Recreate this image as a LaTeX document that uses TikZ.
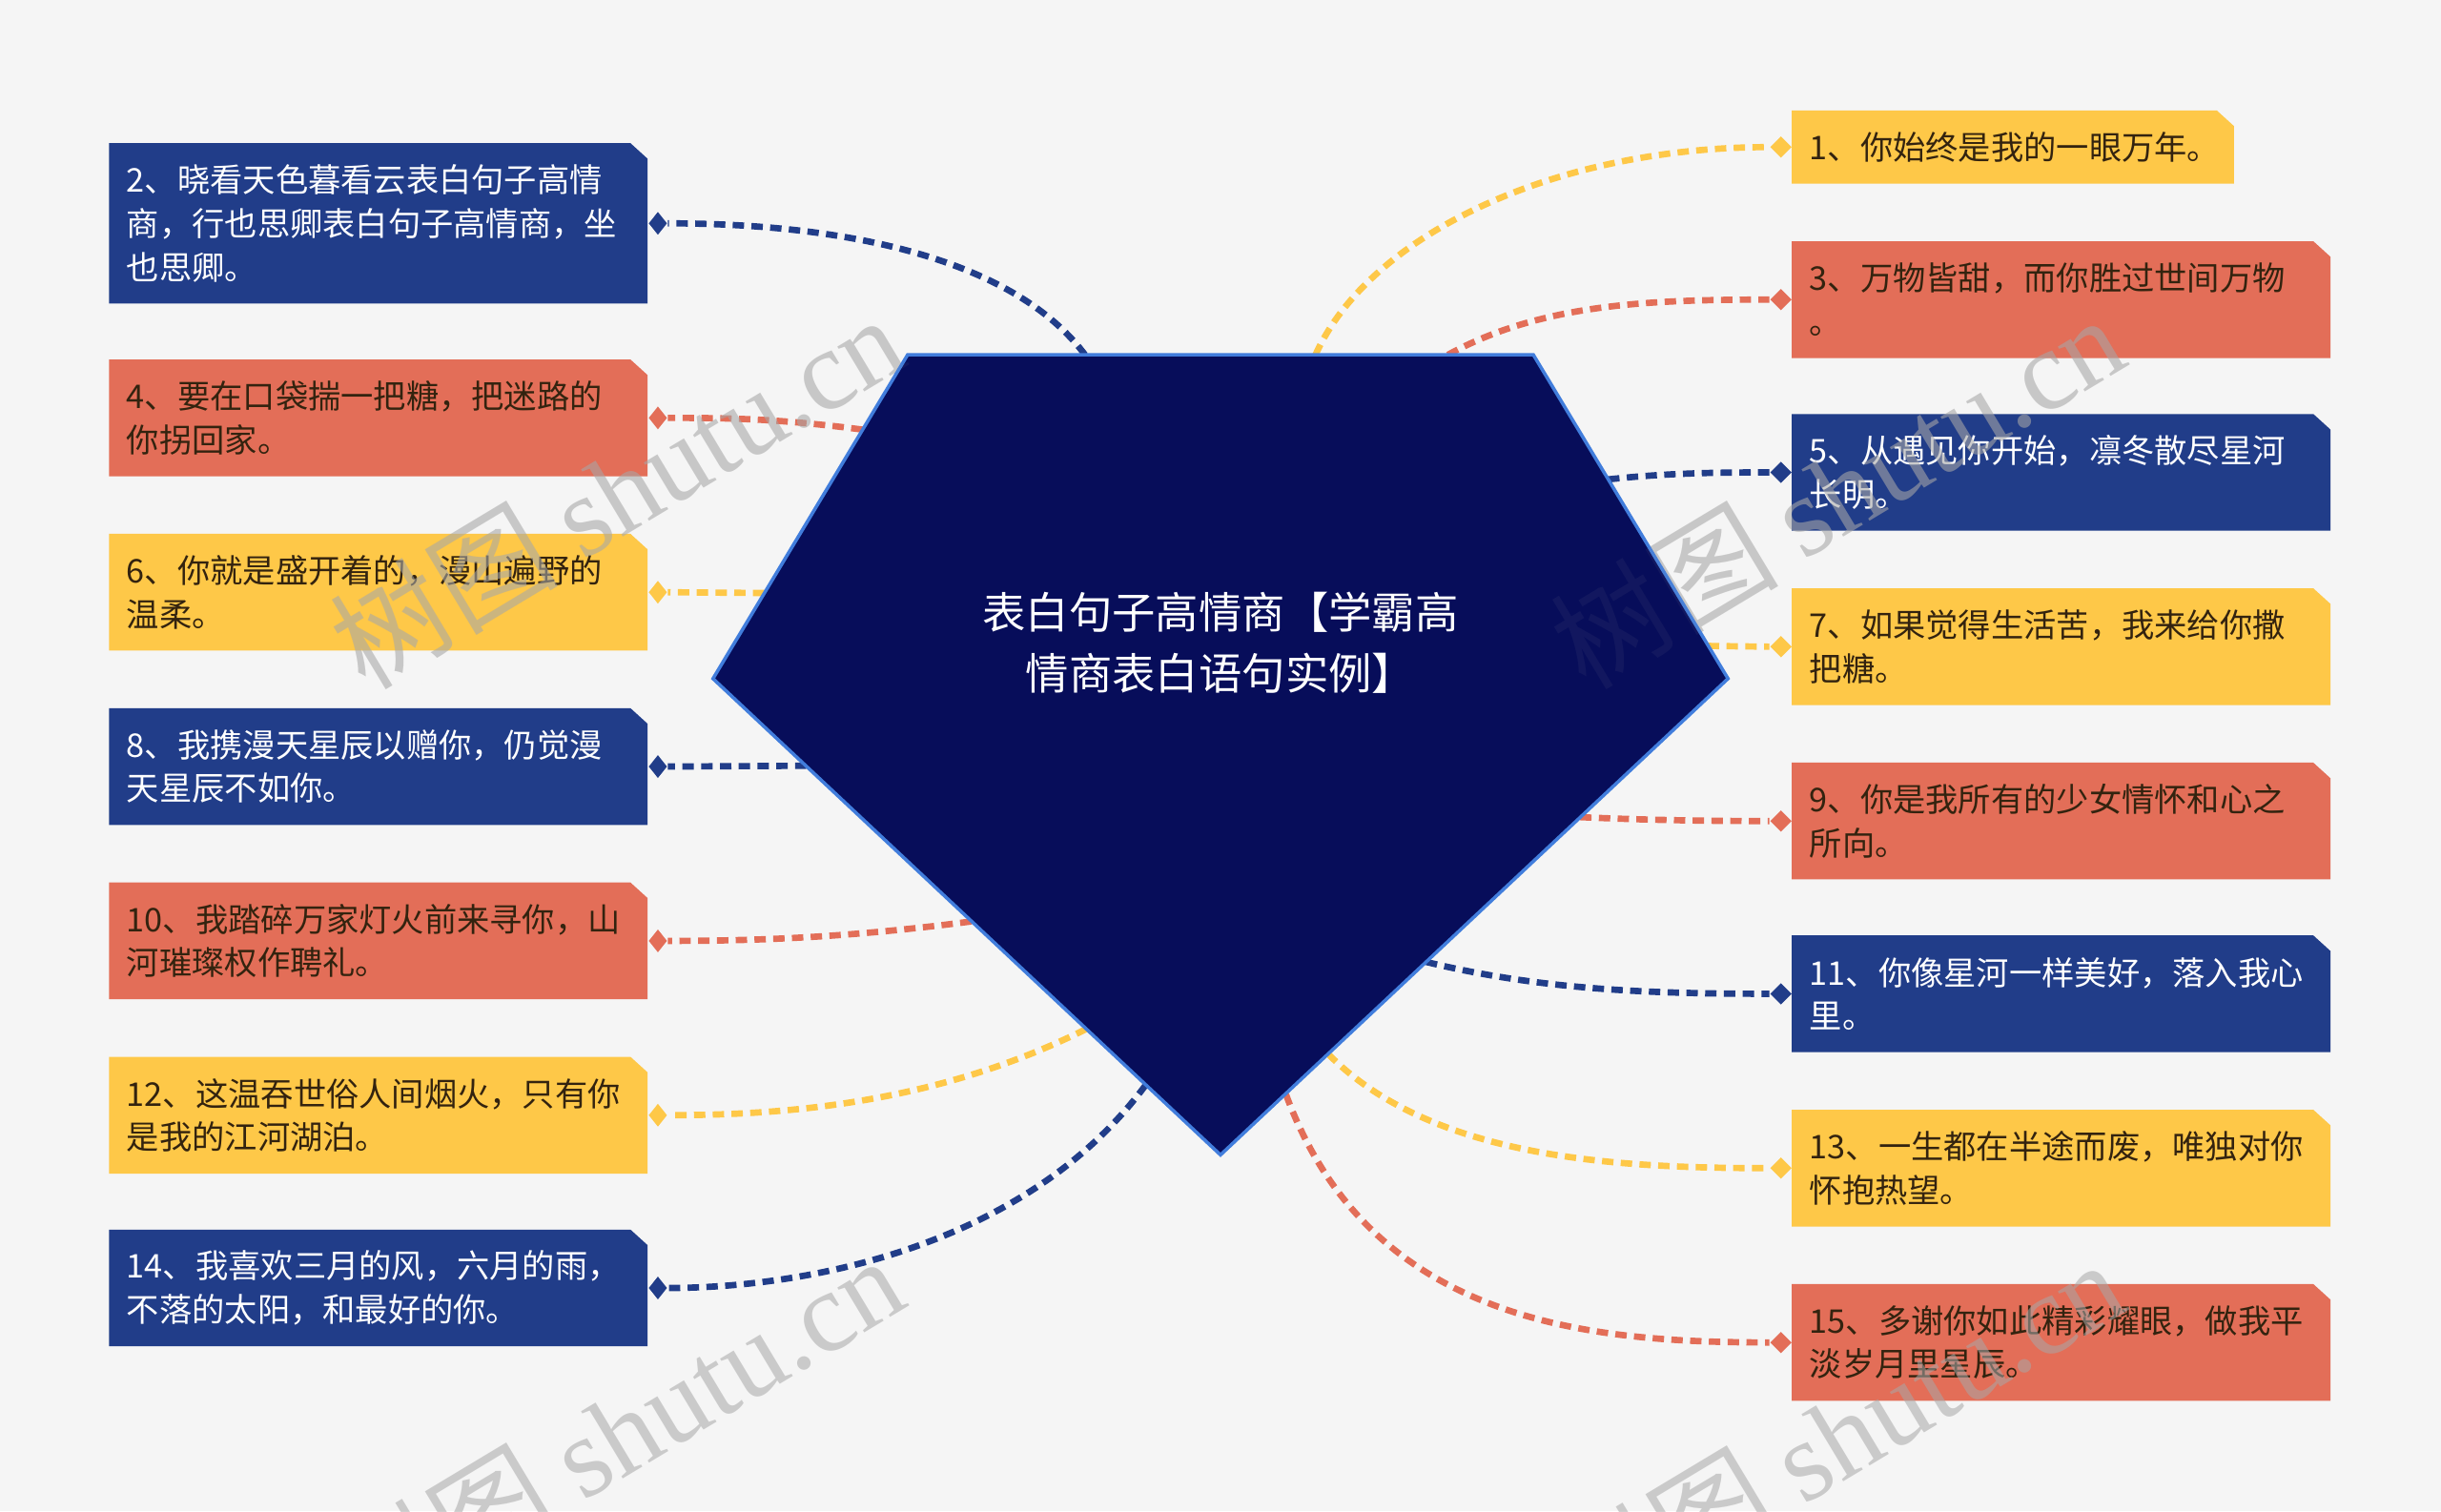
\documentclass[tikz,border=0pt]{standalone}
\usepackage{fontspec}
\setmainfont{Noto Sans CJK SC}
\newfontfamily\wmlat{Liberation Serif}
\newfontfamily\wmcjk{Noto Sans CJK SC}
\usetikzlibrary{shapes.geometric}
\newlength\spx \setlength\spx{0.4645pt}
\definecolor{bgc}{HTML}{F5F5F5}
\definecolor{navy}{HTML}{213D89}
\definecolor{coral}{HTML}{E36E58}
\definecolor{gold}{HTML}{FEC848}
\definecolor{deep}{HTML}{070D5A}
\definecolor{rim}{HTML}{417DDC}
\definecolor{ink}{HTML}{33230F}
\definecolor{wmgray}{HTML}{A8A8A8}
\tikzset{
  leaftext/.style={anchor=west, align=left, inner sep=0pt, font=\fontsize{9.75}{13}\selectfont},
  conn/.style={line width=1.9pt, dash pattern=on 3.4pt off 2.2pt},
  ldia/.style={diamond, inner sep=0pt, minimum width=12\spx, minimum height=15\spx},
  rdia/.style={diamond, inner sep=0pt, minimum width=14\spx, minimum height=14\spx},
  wmstyle/.style={rotate=31, text=wmgray, inner sep=0pt, font=\fontsize{34}{34}\selectfont},
}
\newcommand\leaf[8]{%
  \fill[#6] (#2,#3) -- ({#4-11},#3) -- (#4,{#3+10}) -- (#4,#5) -- (#2,#5) -- cycle;
  \node[leaftext,text=#7] (#1) at ({#2+11},{(#3+#5)/2}) {#8};
}
\newcommand\wmark[3]{\node[wmstyle, opacity=#3] (#1) at #2 {{\wmcjk 树图} {\wmlat shutu.cn}};}
\begin{document}
\begin{tikzpicture}[x=0.016327cm, y=-0.016327cm]
\useasboundingbox (0,0) rectangle (1568,971);
\clip (0,0) rectangle (1568,971);
\fill[bgc] (0,0) rectangle (1568,971);

% left leaves
\leaf{b2}{70}{92}{416}{195}{navy}{white}{2、晓看天色暮看云表白句子高情\\商，行也思卿表白句子高情商，坐\\也思卿。}
\leaf{b4}{70}{231}{416}{306}{coral}{ink}{4、要在口袋揣一把糖，把迷路的\\你拐回家。}
\leaf{b6}{70}{343}{416}{418}{gold}{ink}{6、你就是盛开着的，漫山遍野的\\温柔。}
\leaf{b8}{70}{455}{416}{530}{navy}{white}{8、我携漫天星辰以赠你，仍觉漫\\天星辰不如你。}
\leaf{b10}{70}{567}{416}{642}{coral}{ink}{10、我踏碎万家灯火前来寻你，山\\河璀璨权作聘礼。}
\leaf{b12}{70}{679}{416}{754}{gold}{ink}{12、这温吞世俗人间烟火，只有你\\是我的江河湖泊。}
\leaf{b14}{70}{790}{416}{865}{navy}{white}{14、我喜欢三月的风，六月的雨，\\不落的太阳，和最好的你。}
% right leaves
\leaf{b1}{1151}{71}{1435}{118}{gold}{ink}{1、你始终是我的一眼万年。}
\leaf{b3}{1151}{155}{1497}{230}{coral}{ink}{3、万物皆甜，而你胜过世间万物\\。}
\leaf{b5}{1151}{266}{1497}{341}{navy}{white}{5、从遇见你开始，凛冬散尽星河\\长明。}
\leaf{b7}{1151}{378}{1497}{453}{gold}{ink}{7、如果觉得生活苦，我来给你撒\\把糖。}
\leaf{b9}{1151}{490}{1497}{565}{coral}{ink}{9、你是我所有的少女情怀和心之\\所向。}
\leaf{b11}{1151}{601}{1497}{676}{navy}{white}{11、你像星河一样美好，落入我心\\里。}
\leaf{b13}{1151}{713}{1497}{788}{gold}{ink}{13、一生都在半途而废，唯独对你\\怀抱热望。}
\leaf{b15}{1151}{825}{1497}{900}{coral}{ink}{15、多谢你如此精彩耀眼，做我平\\淡岁月里星辰。}

% diamonds
\node[ldia, fill=navy]  (d2)  at (422.6,143.5) {};
\node[ldia, fill=coral] (d4)  at (422.6,268.5) {};
\node[ldia, fill=gold]  (d6)  at (422.6,380.5) {};
\node[ldia, fill=navy]  (d8)  at (422.6,492.5) {};
\node[ldia, fill=coral] (d10) at (422.6,604.5) {};
\node[ldia, fill=gold]  (d12) at (422.6,716.5) {};
\node[ldia, fill=navy]  (d14) at (422.6,827.5) {};
\node[rdia, fill=gold]  (d1)  at (1144,94.5) {};
\node[rdia, fill=coral] (d3)  at (1144,192.5) {};
\node[rdia, fill=navy]  (d5)  at (1144,303.5) {};
\node[rdia, fill=gold]  (d7)  at (1144,415.5) {};
\node[rdia, fill=coral] (d9)  at (1144,527.5) {};
\node[rdia, fill=navy]  (d11) at (1144,638.5) {};
\node[rdia, fill=gold]  (d13) at (1144,750.5) {};
\node[rdia, fill=coral] (d15) at (1144,862.5) {};

% pentagon corners and connector starts on its edges
\coordinate (pa) at (583,228);
\coordinate (pb) at (985,228);
\coordinate (pc) at (1110,436);
\coordinate (pd) at (784,742);
\coordinate (pe) at (458,436);
\coordinate (s1) at (845,228);
\coordinate (s2) at (697,228);
\coordinate (s3) at (930,228);
\coordinate (s4) at (554,276);
\coordinate (s5) at (1033,308);
\coordinate (s6) at (491,381);
\coordinate (s7) at (1097,415);
\coordinate (s8) at (518,492);
\coordinate (s9) at (1015,525);
\coordinate (s10) at (624,592);
\coordinate (s11) at (916,618);
\coordinate (s12) at (698,661);
\coordinate (s13) at (853,677);
\coordinate (s14) at (736,697);
\coordinate (s15) at (826,703);

% connectors
\draw[conn, gold]  (s1) .. controls (880,150) and (1000,94.5) .. (d1.west);
\draw[conn, navy]  (s2) .. controls (650,165) and (540,143.5) .. (d2.east);
\draw[conn, coral] (s3) .. controls (990,195) and (1060,192.5) .. (d3.west);
\draw[conn, coral] (s4) .. controls (500,269) and (470,268.5) .. (d4.east);
\draw[conn, navy]  (s5) .. controls (1070,304) and (1100,303.5) .. (d5.west);
\draw[conn, gold]  (s6) -- (d6.east);
\draw[conn, gold]  (s7) -- (d7.west);
\draw[conn, navy]  (s8) -- (d8.east);
\draw[conn, coral] (s9) .. controls (1060,527) and (1100,527.5) .. (d9.west);
\draw[conn, coral] (s10) .. controls (540,603) and (480,604.5) .. (d10.east);
\draw[conn, navy]  (s11) .. controls (990,636) and (1060,638.5) .. (d11.west);
\draw[conn, gold]  (s12) .. controls (600,710) and (500,716.5) .. (d12.east);
\draw[conn, gold]  (s13) .. controls (920,745) and (1040,750.5) .. (d13.west);
\draw[conn, navy]  (s14) .. controls (660,800) and (520,827.5) .. (d14.east);
\draw[conn, coral] (s15) .. controls (880,850) and (1020,862.5) .. (d15.west);

% watermarks (under the central shape)
\wmark{wm1}{(396,315)}{0.55}
\wmark{wm2}{(1180,315)}{0.55}
\wmark{wm3}{(396,920)}{0.55}
\wmark{wm4}{(1180,922)}{0.55}

% central shape
\filldraw[fill=deep, draw=rim, line width=1pt, line join=miter] (pa) -- (pb) -- (pc) -- (pd) -- (pe) -- cycle;
\node[text=white, align=center, inner sep=0pt, font=\fontsize{12.9}{18}\selectfont] (root) at (784,413) {表白句子高情商【学霸高\\情商表白语句实例】};

% faint watermark traces over the central shape
\wmark{wm1f}{(396,315)}{0.07}
\wmark{wm2f}{(1180,315)}{0.07}
\end{tikzpicture}
\end{document}
